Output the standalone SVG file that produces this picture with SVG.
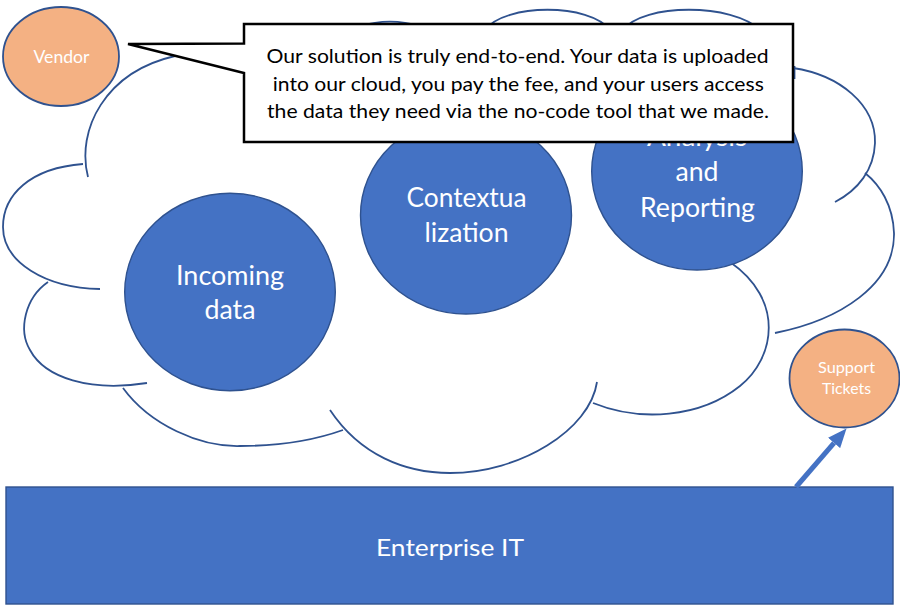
<svg xmlns="http://www.w3.org/2000/svg" width="900" height="608" viewBox="0 0 900 608">
  <style>
    .cloud { fill: none; stroke: #2F528F; stroke-width: 1.8; stroke-linecap: butt; }
    .blue { fill: #4472C4; stroke: #2F528F; stroke-width: 1.4; }
    .orange { fill: #F4B183; stroke: #2F528F; stroke-width: 1.8; }
    .wt { fill: #FFFFFF; font-family: Lato, "Open Sans", "Liberation Sans", sans-serif; text-anchor: middle; }
    .big { font-size: 26px; }
    .callout { fill: #FFFFFF; stroke: #000000; stroke-width: 2.5; stroke-linejoin: miter; }
    .ct { fill: #000000; font-family: Lato, "Open Sans", "Liberation Sans", sans-serif; font-size: 20px; text-anchor: middle; }
  </style>
  <defs>
    <marker id="ah" markerUnits="userSpaceOnUse" markerWidth="20" markerHeight="17" refX="0" refY="8" orient="auto">
      <path d="M0,0 L19,8 L0,16 Z" fill="#4472C4"/>
    </marker>
  </defs>
  <rect width="900" height="608" fill="#FFFFFF"/>

  <g id="cloud">
    <path class="cloud" d="M88,177 C 76,130 105,72 175,56 S 240,44 262,46"/>
    <path class="cloud" d="M83,164 C 30,168 3,195 3,227 C 3,262 45,288 100,289"/>
    <path class="cloud" d="M48,282 C 25,298 18,330 30,350 C 45,378 90,392 147,383"/>
    <path class="cloud" d="M123,388 C 150,425 200,447 240,446 C 280,446 315,440 343,430"/>
    <path class="cloud" d="M330,410 C 360,455 405,473 450,473 C 520,473 590,430 597,382"/>
    <path class="cloud" d="M593,403 C 640,422 700,418 740,386 C 775,358 785,300 730,262"/>
    <path class="cloud" d="M775,333 C 840,320 895,285 894,233 C 893,205 880,185 865,173"/>
    <path class="cloud" d="M793,68 C 840,75 876,105 875,143 C 874,170 858,190 835,202"/>
    <path class="cloud" d="M340,40 C 360,15.5 420,15.5 440,40"/>
    <path class="cloud" d="M485,30 C 505,3 590,3 610,30"/>
    <path class="cloud" d="M623,30 C 643,3 733,3 760,30"/>
    <path class="cloud" d="M794.5,66 L794.5,79" stroke-width="2.5"/>
  </g>

  <g id="incoming">
    <ellipse class="blue" cx="230" cy="292" rx="105.3" ry="98.7"/>
    <text class="wt big" x="230" y="284.5" textLength="108" lengthAdjust="spacingAndGlyphs">Incoming</text>
    <text class="wt big" x="230" y="318.5" textLength="51" lengthAdjust="spacingAndGlyphs">data</text>
  </g>

  <g id="contextualization">
    <ellipse class="blue" cx="466" cy="215.3" rx="105.5" ry="98.7"/>
    <text class="wt big" x="466.5" y="206.7" textLength="120" lengthAdjust="spacingAndGlyphs">Contextua</text>
    <text class="wt big" x="466.5" y="241.7" textLength="84" lengthAdjust="spacingAndGlyphs">lization</text>
  </g>

  <g id="analysis">
    <ellipse class="blue" cx="697" cy="171.3" rx="105.3" ry="98.7"/>
    <text class="wt big" x="697" y="145.5" textLength="100" lengthAdjust="spacingAndGlyphs">Analysis</text>
    <text class="wt big" x="697" y="181" textLength="43" lengthAdjust="spacingAndGlyphs">and</text>
    <text class="wt big" x="697.5" y="216.5" textLength="115" lengthAdjust="spacingAndGlyphs">Reporting</text>
  </g>

  <g id="support">
    <ellipse class="orange" cx="844.5" cy="378.5" rx="55" ry="49"/>
    <text class="wt" font-size="15" x="846.5" y="372.7" textLength="57" lengthAdjust="spacingAndGlyphs">Support</text>
    <text class="wt" font-size="15" x="846.5" y="394.3" textLength="49" lengthAdjust="spacingAndGlyphs">Tickets</text>
  </g>

  <g id="enterprise">
    <rect class="blue" x="6" y="487" width="887" height="117" stroke-width="2"/>
    <text class="wt" font-size="24" x="450" y="555.7" textLength="148" lengthAdjust="spacingAndGlyphs">Enterprise IT</text>
  </g>

  <g id="connectors">
    <line x1="796" y1="487" x2="834.1" y2="442.9" stroke="#4472C4" stroke-width="5" marker-end="url(#ah)"/>
  </g>

  <g id="vendor">
    <ellipse class="orange" cx="61" cy="56.5" rx="58" ry="49.5"/>
    <text class="wt" font-size="18" x="61.5" y="62.7" textLength="56" lengthAdjust="spacingAndGlyphs">Vendor</text>
  </g>

  <g id="callout">
    <path class="callout" d="M244,24 H793 V142 H244 V73 L128,44 L244,43.5 Z"/>
    <text class="ct" x="517.5" y="63" textLength="502" lengthAdjust="spacingAndGlyphs">Our solution is truly end-to-end. Your data is uploaded</text>
    <text class="ct" x="518.3" y="90.5" textLength="491" lengthAdjust="spacingAndGlyphs">into our cloud, you pay the fee, and your users access</text>
    <text class="ct" x="518" y="118" textLength="502" lengthAdjust="spacingAndGlyphs">the data they need via the no-code tool that we made.</text>
  </g>
</svg>
